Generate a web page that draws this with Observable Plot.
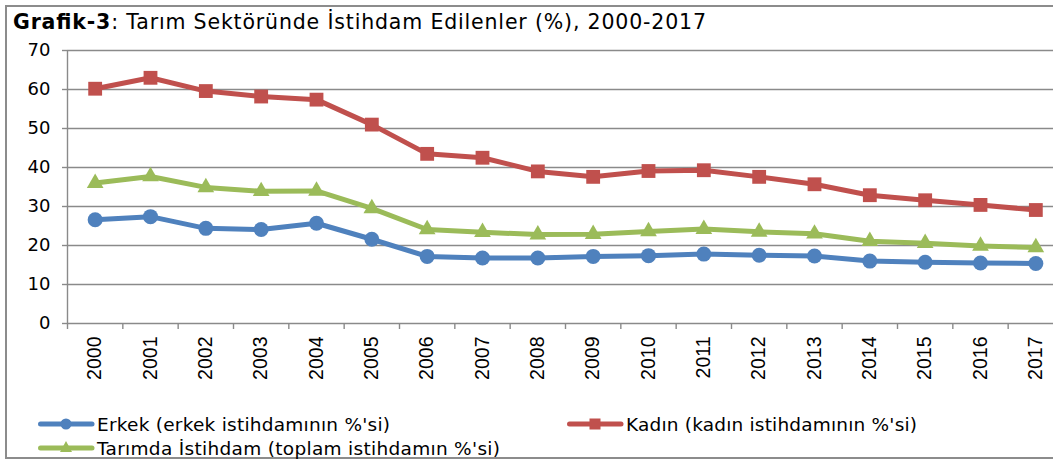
<!DOCTYPE html>
<html>
<head>
<meta charset="utf-8">
<script src="https://cdn.jsdelivr.net/npm/d3@7"></script>
<script src="https://cdn.jsdelivr.net/npm/@observablehq/plot@0.6"></script>
<style>
  html, body { margin: 0; padding: 0; background: #fff; }
  #wrap { position: relative; width: 1053px; height: 463px; overflow: hidden; font-family: "DejaVu Sans", Verdana, sans-serif; color: #000; }
  #frame { position: absolute; left: 5px; top: 5px; width: 1100px; height: 454px; border: 2px solid #8c8c8c; box-sizing: border-box; }
  #title { position: absolute; left: 0; top: 0; }
  #chart { position: absolute; left: 0; top: 40px; }
  #legend { position: absolute; left: 0; top: 400px; }
</style>
</head>
<body>
<div id="wrap">
  <div id="frame"></div>
  <svg id="title" width="1053" height="40">
    <text x="13" y="29" font-family="DejaVu Sans, Verdana, sans-serif" font-size="20.5" textLength="693" lengthAdjust="spacing"><tspan font-weight="bold">Grafik-3</tspan>: Tarım Sektöründe İstihdam Edilenler (%), 2000-2017</text>
  </svg>
  <div id="chart"></div>
  <svg id="legend" width="1053" height="63"></svg>
</div>
<script>
const years = [2000, 2001, 2002, 2003, 2004, 2005, 2006, 2007, 2008, 2009, 2010, 2011, 2012, 2013, 2014, 2015, 2016, 2017];
const erkek = [26.6, 27.4, 24.4, 24.1, 25.7, 21.6, 17.2, 16.8, 16.8, 17.2, 17.4, 17.8, 17.5, 17.3, 16.0, 15.7, 15.5, 15.4];
const kadin = [60.2, 63.0, 59.6, 58.2, 57.4, 51.0, 43.5, 42.5, 39.0, 37.6, 39.1, 39.3, 37.6, 35.7, 32.9, 31.6, 30.4, 29.1];
const tarim = [36.0, 37.7, 34.9, 33.9, 34.0, 29.5, 24.1, 23.4, 22.8, 22.9, 23.6, 24.2, 23.5, 23.0, 21.1, 20.6, 19.9, 19.5];
const seriesNames = ["Erkek (erkek istihdamının %'si)", "Kadın (kadın istihdamının %'si)", "Tarımda İstihdam (toplam istihdamın %'si)"];
const seriesColors = ["#4F81BD", "#C0504D", "#9BBB59"];
const seriesSymbols = ["circle", "square", "triangle"];
const yTicks = [0, 10, 20, 30, 40, 50, 60, 70];

const rows = [];
[erkek, kadin, tarim].forEach((vals, s) => {
  years.forEach((yr, i) => rows.push({year: yr, value: vals[i], series: seriesNames[s], s}));
});
const boundaries = d3.range(years.length + 1).map(i => years[0] - 0.5 + i);

const W = 1053, H = 360;
const marks = [
  Plot.ruleY(yTicks, {stroke: "#8a8a8a", strokeWidth: 1.4}),
  Plot.ruleX([years[0] - 0.5], {y1: 0, y2: 70, stroke: "#8a8a8a", strokeWidth: 1.4}),
  Plot.axisY({ticks: yTicks, tickSize: 5, tickPadding: 12, fontSize: 18, stroke: "#8a8a8a", strokeWidth: 1.4, label: null, tickFormat: d => d}),
  Plot.axisX({ticks: boundaries, tickSize: 6, tickFormat: () => "", stroke: "#8a8a8a", strokeWidth: 1.4, label: null}),
  Plot.axisX({ticks: years, tickSize: 0, tickPadding: 13, tickRotate: -90, fontSize: 19.5, fontFamily: "Liberation Sans, Arial, sans-serif", tickFormat: d => String(d), label: null})
];
seriesNames.forEach((name, s) => {
  const data = rows.filter(d => d.s === s);
  marks.push(Plot.line(data, {x: "year", y: "value", stroke: seriesColors[s], strokeWidth: 5}));
  const r = s === 0 ? 7.5 : s === 1 ? 7.8 : 6.2;
  marks.push(Plot.dot(data, {x: "year", y: "value", symbol: seriesSymbols[s], fill: seriesColors[s], stroke: "none", r}));
});

const plot = Plot.plot({
  width: W,
  height: H,
  marginLeft: 67,
  marginRight: 0,
  marginTop: 10,
  marginBottom: 77,
  style: {fontFamily: "DejaVu Sans, Verdana, sans-serif", color: "#000", overflow: "hidden"},
  x: {type: "linear", domain: [years[0] - 0.5, years[years.length - 1] + 0.5], range: [67, 1063]},
  y: {domain: [0, 70]},
  marks
});
document.getElementById("chart").appendChild(plot);

// Legend (SVG coordinates relative to top 400)
const legPos = [[38, 24], [567, 24], [38, 48]];
const legLen = [293, 291, 403];
const leg = d3.select("#legend");
seriesNames.forEach((name, s) => {
  const [lx, ly] = legPos[s];
  const g = leg.append("g").attr("transform", `translate(${lx},${ly})`);
  g.append("line").attr("x1", 2.5).attr("x2", 54).attr("y1", 0).attr("y2", 0)
    .attr("stroke", seriesColors[s]).attr("stroke-width", 5).attr("stroke-linecap", "round");
  if (s === 0) g.append("circle").attr("cx", 28).attr("cy", 0).attr("r", 5.5).attr("fill", seriesColors[s]);
  else if (s === 1) g.append("rect").attr("x", 22.5).attr("y", -5.5).attr("width", 11).attr("height", 11).attr("fill", seriesColors[s]);
  else g.append("path").attr("d", "M28,-7 L34,4 L22,4 Z").attr("fill", seriesColors[s]);
  g.append("text").attr("x", 59).attr("y", 6.5)
    .attr("font-family", "DejaVu Sans, Verdana, sans-serif").attr("font-size", 18.5)
    .attr("textLength", legLen[s]).attr("lengthAdjust", "spacing")
    .text(name);
});
</script>
</body>
</html>
